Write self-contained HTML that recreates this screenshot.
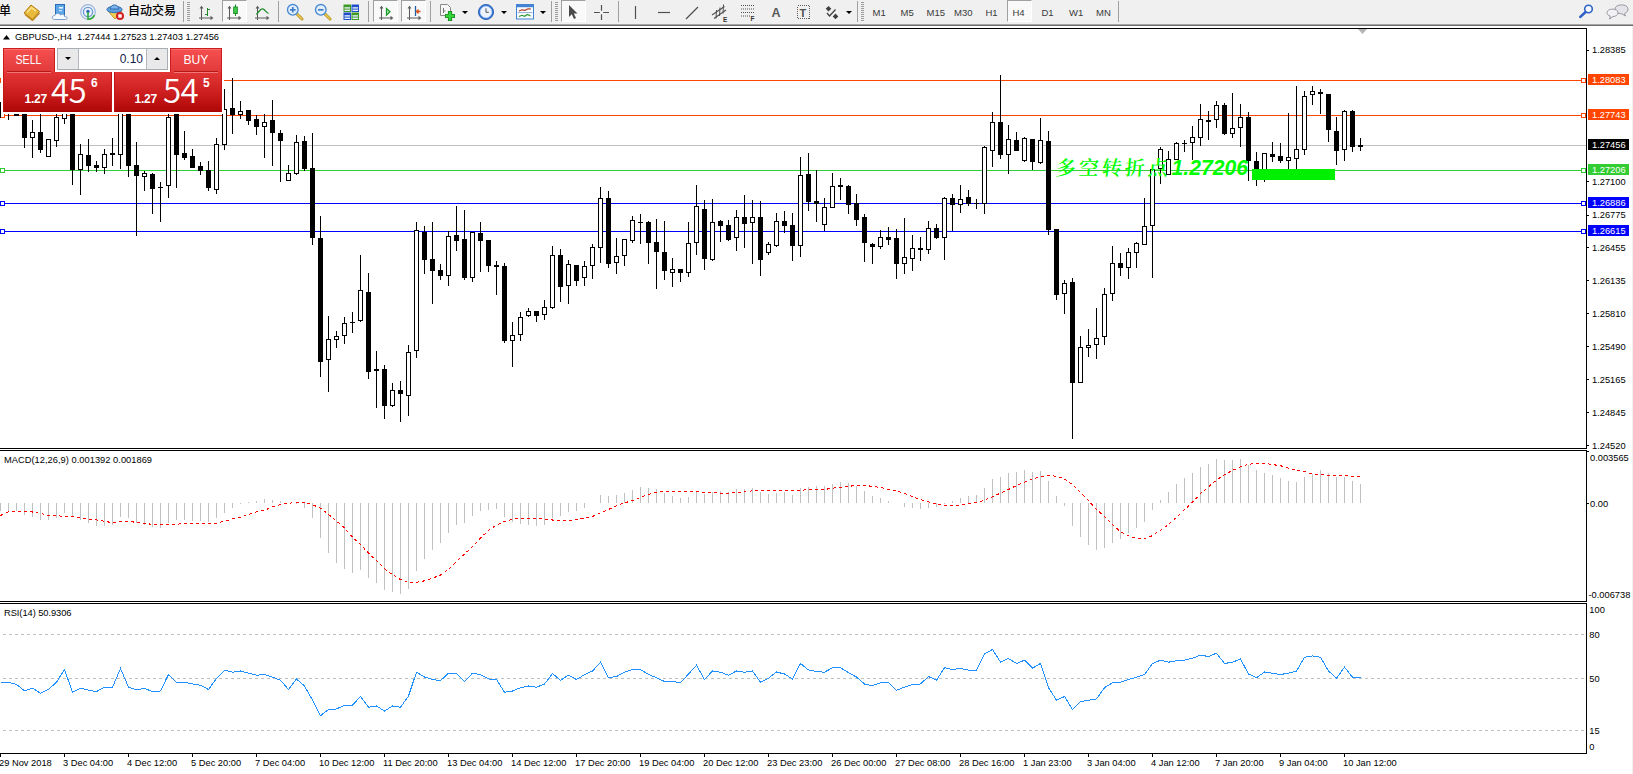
<!DOCTYPE html>
<html lang="zh">
<head>
<meta charset="utf-8">
<title>GBPUSD-,H4</title>
<style>
html,body{margin:0;padding:0;background:#fff;overflow:hidden}
body{width:1633px;height:774px;position:relative;font-family:"Liberation Sans","Noto Sans CJK SC",sans-serif}
#chart{position:absolute;left:0;top:0}
#tb{position:absolute;left:0;top:0;width:1633px;height:24px;background:#F0F0F0}
#tbl1{position:absolute;left:0;top:24px;width:1633px;height:1px;background:#A6A6A6}
#tbl2{position:absolute;left:0;top:25px;width:1633px;height:1px;background:#6E6E6E}
#tb .t{position:absolute;top:4.5px;font-size:9.5px;line-height:16px;color:#3a3a3a;white-space:nowrap}
#tb .cj{position:absolute;top:2px;font-size:12px;font-weight:500;line-height:18px;color:#000;white-space:nowrap}
#tb .sep{position:absolute;top:1px;width:1px;height:21px;background:#A0A0A0}
#tb .grip{position:absolute;top:2px;width:3px;height:19px;background:repeating-linear-gradient(to bottom,#9c9c9c 0,#9c9c9c 1px,#F0F0F0 1px,#F0F0F0 2px)}
#tb .pr{position:absolute;top:0;height:22px;box-sizing:border-box;background:#F9F9F9;border-top:1px solid #A0A0A0;border-left:1px solid #A0A0A0;border-right:1px solid #fff;border-bottom:1px solid #fff}
#tb svg{position:absolute}
#tb .dd{position:absolute;top:10px;width:0;height:0;border-left:3px solid transparent;border-right:3px solid transparent;border-top:3px solid #000}
/* trade panel */
#tpw{position:absolute;left:1px;top:46px;width:223px;height:68px;background:#fff}
#tp{position:absolute;left:3px;top:48px;width:219px;height:64px;background:#fff}
#tp .sell,#tp .buy{position:absolute;top:0;height:24px;width:52px;box-sizing:border-box;background:linear-gradient(#F64F4F,#E23A3A);color:#fff;font-size:12.5px;line-height:23px;text-align:center;border:1px solid #CC1C1C;border-bottom:none;box-shadow:inset 0 1px 0 #F97070}
#tp .sell{left:0}
#tp .buy{left:167px}
#tp .sell b,#tp .buy b{display:inline-block;font-weight:400;transform-origin:50% 50%}
#tp .sell b{transform:translateX(-0.8px) scaleX(0.85)}
#tp .buy b{transform:scaleX(0.97)}
#tp .sell i,#tp .buy i{position:absolute;left:3px;right:3px;bottom:0;height:1px;background:#B41818}
#tp .sell u,#tp .buy u{position:absolute;left:3px;right:3px;bottom:-1px;height:1px;background:#F27878;z-index:3}
#tp .pb{position:absolute;top:24px;height:40px;box-sizing:border-box;background:linear-gradient(#E23636 0%,#CE2020 50%,#B00707 100%);color:#fff;border:1px solid #C41414;border-top:none;border-bottom-color:#A60404}
#tp .pb.s{left:0;width:109px}
#tp .pb.b{left:111px;width:108px}
#tp .pb span{position:absolute;white-space:nowrap}
#tp .sm{font-weight:700;font-size:12px;line-height:14px;top:20px;letter-spacing:-0.2px}
#tp .bg{font-family:"Noto Sans CJK SC","Liberation Sans",sans-serif;font-weight:350;font-size:33px;line-height:33px;top:1px;letter-spacing:-0.5px}
#tp .sp{font-weight:700;font-size:12px;line-height:12px;top:5px}
#tp .spin{position:absolute;left:54px;top:0;width:111px;height:22px;box-sizing:border-box;border:1px solid #A9AEB4;background:#fff}
#tp .spin .l,#tp .spin .r{position:absolute;top:0;width:20px;height:20px;background:#E9E9E9}
#tp .spin .l{left:0;border-right:1px solid #B4B8BE}
#tp .spin .r{right:0;border-left:1px solid #B4B8BE}
#tp .spin .v{position:absolute;right:24px;top:0;font-size:12px;line-height:20px;color:#14244A}
#tp .spin .l:after{content:"";position:absolute;left:7px;top:8px;border-left:3px solid transparent;border-right:3px solid transparent;border-top:3px solid #000}
#tp .spin .r:after{content:"";position:absolute;left:7px;top:8px;border-left:3px solid transparent;border-right:3px solid transparent;border-bottom:3px solid #000}
</style>
</head>
<body>
<svg id="chart" width="1633" height="774" viewBox="0 0 1633 774" shape-rendering="crispEdges">
<style>.ax{font:9.3px "Liberation Sans",sans-serif;fill:#000}.lb{font:9.3px "Liberation Sans",sans-serif;fill:#fff}text{white-space:pre}</style>
<rect x="0" y="145" width="1586" height="1" fill="#C0C0C0"/>
<rect x="0" y="80" width="1586" height="1" fill="#FF4500"/>
<rect x="0.5" y="78.5" width="4" height="4" fill="#fff" stroke="#FF4500" stroke-width="1"/>
<rect x="1581.5" y="78.5" width="4" height="4" fill="#fff" stroke="#FF4500" stroke-width="1"/>
<rect x="0" y="115" width="1586" height="1" fill="#FF4500"/>
<rect x="0.5" y="113.5" width="4" height="4" fill="#fff" stroke="#FF4500" stroke-width="1"/>
<rect x="1581.5" y="113.5" width="4" height="4" fill="#fff" stroke="#FF4500" stroke-width="1"/>
<rect x="0" y="170" width="1586" height="1" fill="#32CD32"/>
<rect x="0.5" y="168.5" width="4" height="4" fill="#fff" stroke="#32CD32" stroke-width="1"/>
<rect x="1581.5" y="168.5" width="4" height="4" fill="#fff" stroke="#32CD32" stroke-width="1"/>
<rect x="0" y="203" width="1586" height="1" fill="#0000FF"/>
<rect x="0.5" y="201.5" width="4" height="4" fill="#fff" stroke="#0000FF" stroke-width="1"/>
<rect x="1581.5" y="201.5" width="4" height="4" fill="#fff" stroke="#0000FF" stroke-width="1"/>
<rect x="0" y="231" width="1586" height="1" fill="#0000FF"/>
<rect x="0.5" y="229.5" width="4" height="4" fill="#fff" stroke="#0000FF" stroke-width="1"/>
<rect x="1581.5" y="229.5" width="4" height="4" fill="#fff" stroke="#0000FF" stroke-width="1"/>
<g fill="#000">
<rect x="0" y="102" width="1" height="16"/>
<rect x="-2" y="102" width="5" height="11"/>
<rect x="8" y="100" width="1" height="20"/>
<rect x="6" y="100" width="5" height="10"/>
<rect x="7" y="101" width="3" height="8" fill="#fff"/>
<rect x="16" y="100" width="1" height="16"/>
<rect x="14" y="114" width="5" height="2"/>
<rect x="24" y="100" width="1" height="48"/>
<rect x="22" y="100" width="5" height="38"/>
<rect x="32" y="120" width="1" height="38"/>
<rect x="30" y="132" width="5" height="6"/>
<rect x="31" y="133" width="3" height="4" fill="#fff"/>
<rect x="40" y="105" width="1" height="48"/>
<rect x="38" y="132" width="5" height="18"/>
<rect x="48" y="139" width="1" height="18"/>
<rect x="46" y="139" width="5" height="18"/>
<rect x="47" y="140" width="3" height="16" fill="#fff"/>
<rect x="56" y="105" width="1" height="42"/>
<rect x="54" y="117" width="5" height="24"/>
<rect x="55" y="118" width="3" height="22" fill="#fff"/>
<rect x="64" y="100" width="1" height="24"/>
<rect x="62" y="100" width="5" height="19"/>
<rect x="63" y="101" width="3" height="17" fill="#fff"/>
<rect x="72" y="100" width="1" height="85"/>
<rect x="70" y="100" width="5" height="70"/>
<rect x="80" y="144" width="1" height="51"/>
<rect x="78" y="154" width="5" height="16"/>
<rect x="79" y="155" width="3" height="14" fill="#fff"/>
<rect x="88" y="139" width="1" height="33"/>
<rect x="86" y="155" width="5" height="11"/>
<rect x="96" y="161" width="1" height="11"/>
<rect x="94" y="165" width="5" height="3"/>
<rect x="104" y="149" width="1" height="25"/>
<rect x="102" y="154" width="5" height="14"/>
<rect x="103" y="155" width="3" height="12" fill="#fff"/>
<rect x="112" y="138" width="1" height="28"/>
<rect x="110" y="153" width="5" height="2"/>
<rect x="120" y="100" width="1" height="69"/>
<rect x="118" y="100" width="5" height="55"/>
<rect x="119" y="101" width="3" height="53" fill="#fff"/>
<rect x="128" y="100" width="1" height="77"/>
<rect x="126" y="100" width="5" height="66"/>
<rect x="136" y="142" width="1" height="94"/>
<rect x="134" y="165" width="5" height="11"/>
<rect x="144" y="171" width="1" height="20"/>
<rect x="142" y="173" width="5" height="4"/>
<rect x="143" y="174" width="3" height="2" fill="#fff"/>
<rect x="152" y="173" width="1" height="41"/>
<rect x="150" y="174" width="5" height="15"/>
<rect x="160" y="182" width="1" height="40"/>
<rect x="158" y="187" width="5" height="1"/>
<rect x="168" y="105" width="1" height="93"/>
<rect x="166" y="117" width="5" height="69"/>
<rect x="167" y="118" width="3" height="67" fill="#fff"/>
<rect x="176" y="105" width="1" height="83"/>
<rect x="174" y="105" width="5" height="50"/>
<rect x="184" y="131" width="1" height="29"/>
<rect x="182" y="153" width="5" height="5"/>
<rect x="192" y="149" width="1" height="19"/>
<rect x="190" y="156" width="5" height="12"/>
<rect x="200" y="162" width="1" height="13"/>
<rect x="198" y="166" width="5" height="5"/>
<rect x="208" y="161" width="1" height="30"/>
<rect x="206" y="170" width="5" height="18"/>
<rect x="216" y="138" width="1" height="56"/>
<rect x="214" y="144" width="5" height="46"/>
<rect x="215" y="145" width="3" height="44" fill="#fff"/>
<rect x="224" y="89" width="1" height="61"/>
<rect x="222" y="109" width="5" height="36"/>
<rect x="223" y="110" width="3" height="34" fill="#fff"/>
<rect x="232" y="78" width="1" height="56"/>
<rect x="230" y="108" width="5" height="7"/>
<rect x="240" y="101" width="1" height="18"/>
<rect x="238" y="111" width="5" height="4"/>
<rect x="239" y="112" width="3" height="2" fill="#fff"/>
<rect x="248" y="110" width="1" height="15"/>
<rect x="246" y="110" width="5" height="11"/>
<rect x="256" y="115" width="1" height="20"/>
<rect x="254" y="119" width="5" height="8"/>
<rect x="264" y="114" width="1" height="44"/>
<rect x="262" y="122" width="5" height="5"/>
<rect x="263" y="123" width="3" height="3" fill="#fff"/>
<rect x="272" y="100" width="1" height="66"/>
<rect x="270" y="120" width="5" height="13"/>
<rect x="280" y="130" width="1" height="52"/>
<rect x="278" y="133" width="5" height="8"/>
<rect x="288" y="165" width="1" height="16"/>
<rect x="286" y="173" width="5" height="8"/>
<rect x="287" y="174" width="3" height="6" fill="#fff"/>
<rect x="296" y="135" width="1" height="40"/>
<rect x="294" y="142" width="5" height="32"/>
<rect x="295" y="143" width="3" height="30" fill="#fff"/>
<rect x="304" y="136" width="1" height="35"/>
<rect x="302" y="141" width="5" height="28"/>
<rect x="312" y="133" width="1" height="112"/>
<rect x="310" y="168" width="5" height="70"/>
<rect x="320" y="216" width="1" height="161"/>
<rect x="318" y="238" width="5" height="124"/>
<rect x="328" y="316" width="1" height="76"/>
<rect x="326" y="339" width="5" height="21"/>
<rect x="327" y="340" width="3" height="19" fill="#fff"/>
<rect x="336" y="331" width="1" height="17"/>
<rect x="334" y="336" width="5" height="4"/>
<rect x="335" y="337" width="3" height="2" fill="#fff"/>
<rect x="344" y="317" width="1" height="27"/>
<rect x="342" y="323" width="5" height="13"/>
<rect x="343" y="324" width="3" height="11" fill="#fff"/>
<rect x="352" y="312" width="1" height="21"/>
<rect x="350" y="322" width="5" height="1"/>
<rect x="360" y="255" width="1" height="67"/>
<rect x="358" y="290" width="5" height="31"/>
<rect x="359" y="291" width="3" height="29" fill="#fff"/>
<rect x="368" y="273" width="1" height="106"/>
<rect x="366" y="292" width="5" height="80"/>
<rect x="376" y="351" width="1" height="57"/>
<rect x="374" y="369" width="5" height="2"/>
<rect x="384" y="365" width="1" height="54"/>
<rect x="382" y="369" width="5" height="37"/>
<rect x="392" y="383" width="1" height="24"/>
<rect x="390" y="390" width="5" height="16"/>
<rect x="391" y="391" width="3" height="14" fill="#fff"/>
<rect x="400" y="381" width="1" height="41"/>
<rect x="398" y="390" width="5" height="4"/>
<rect x="408" y="345" width="1" height="71"/>
<rect x="406" y="352" width="5" height="44"/>
<rect x="407" y="353" width="3" height="42" fill="#fff"/>
<rect x="416" y="222" width="1" height="136"/>
<rect x="414" y="230" width="5" height="121"/>
<rect x="415" y="231" width="3" height="119" fill="#fff"/>
<rect x="424" y="226" width="1" height="48"/>
<rect x="422" y="232" width="5" height="28"/>
<rect x="432" y="222" width="1" height="82"/>
<rect x="430" y="259" width="5" height="12"/>
<rect x="440" y="264" width="1" height="16"/>
<rect x="438" y="270" width="5" height="6"/>
<rect x="448" y="231" width="1" height="55"/>
<rect x="446" y="236" width="5" height="40"/>
<rect x="447" y="237" width="3" height="38" fill="#fff"/>
<rect x="456" y="206" width="1" height="45"/>
<rect x="454" y="235" width="5" height="6"/>
<rect x="464" y="210" width="1" height="70"/>
<rect x="462" y="239" width="5" height="39"/>
<rect x="472" y="232" width="1" height="50"/>
<rect x="470" y="232" width="5" height="46"/>
<rect x="471" y="233" width="3" height="44" fill="#fff"/>
<rect x="480" y="222" width="1" height="50"/>
<rect x="478" y="233" width="5" height="8"/>
<rect x="488" y="240" width="1" height="32"/>
<rect x="486" y="240" width="5" height="26"/>
<rect x="496" y="261" width="1" height="34"/>
<rect x="494" y="265" width="5" height="2"/>
<rect x="504" y="263" width="1" height="80"/>
<rect x="502" y="266" width="5" height="75"/>
<rect x="512" y="322" width="1" height="45"/>
<rect x="510" y="335" width="5" height="6"/>
<rect x="511" y="336" width="3" height="4" fill="#fff"/>
<rect x="520" y="312" width="1" height="29"/>
<rect x="518" y="317" width="5" height="18"/>
<rect x="519" y="318" width="3" height="16" fill="#fff"/>
<rect x="528" y="308" width="1" height="9"/>
<rect x="526" y="311" width="5" height="5"/>
<rect x="527" y="312" width="3" height="3" fill="#fff"/>
<rect x="536" y="311" width="1" height="11"/>
<rect x="534" y="311" width="5" height="5"/>
<rect x="544" y="300" width="1" height="20"/>
<rect x="542" y="307" width="5" height="8"/>
<rect x="543" y="308" width="3" height="6" fill="#fff"/>
<rect x="552" y="246" width="1" height="63"/>
<rect x="550" y="255" width="5" height="53"/>
<rect x="551" y="256" width="3" height="51" fill="#fff"/>
<rect x="560" y="249" width="1" height="53"/>
<rect x="558" y="255" width="5" height="32"/>
<rect x="568" y="260" width="1" height="44"/>
<rect x="566" y="264" width="5" height="22"/>
<rect x="567" y="265" width="3" height="20" fill="#fff"/>
<rect x="576" y="265" width="1" height="21"/>
<rect x="574" y="265" width="5" height="16"/>
<rect x="584" y="261" width="1" height="25"/>
<rect x="582" y="266" width="5" height="12"/>
<rect x="583" y="267" width="3" height="10" fill="#fff"/>
<rect x="592" y="244" width="1" height="35"/>
<rect x="590" y="247" width="5" height="19"/>
<rect x="591" y="248" width="3" height="17" fill="#fff"/>
<rect x="600" y="187" width="1" height="76"/>
<rect x="598" y="198" width="5" height="50"/>
<rect x="599" y="199" width="3" height="48" fill="#fff"/>
<rect x="608" y="191" width="1" height="77"/>
<rect x="606" y="198" width="5" height="66"/>
<rect x="616" y="238" width="1" height="36"/>
<rect x="614" y="256" width="5" height="7"/>
<rect x="615" y="257" width="3" height="5" fill="#fff"/>
<rect x="624" y="239" width="1" height="27"/>
<rect x="622" y="239" width="5" height="17"/>
<rect x="623" y="240" width="3" height="15" fill="#fff"/>
<rect x="632" y="216" width="1" height="27"/>
<rect x="630" y="220" width="5" height="21"/>
<rect x="631" y="221" width="3" height="19" fill="#fff"/>
<rect x="640" y="214" width="1" height="30"/>
<rect x="638" y="222" width="5" height="1"/>
<rect x="648" y="221" width="1" height="43"/>
<rect x="646" y="222" width="5" height="21"/>
<rect x="656" y="219" width="1" height="70"/>
<rect x="654" y="242" width="5" height="10"/>
<rect x="664" y="221" width="1" height="59"/>
<rect x="662" y="252" width="5" height="19"/>
<rect x="672" y="258" width="1" height="29"/>
<rect x="670" y="269" width="5" height="4"/>
<rect x="671" y="270" width="3" height="2" fill="#fff"/>
<rect x="680" y="269" width="1" height="13"/>
<rect x="678" y="269" width="5" height="4"/>
<rect x="688" y="222" width="1" height="55"/>
<rect x="686" y="243" width="5" height="30"/>
<rect x="687" y="244" width="3" height="28" fill="#fff"/>
<rect x="696" y="185" width="1" height="70"/>
<rect x="694" y="206" width="5" height="37"/>
<rect x="695" y="207" width="3" height="35" fill="#fff"/>
<rect x="704" y="200" width="1" height="70"/>
<rect x="702" y="209" width="5" height="50"/>
<rect x="712" y="199" width="1" height="62"/>
<rect x="710" y="222" width="5" height="38"/>
<rect x="711" y="223" width="3" height="36" fill="#fff"/>
<rect x="720" y="220" width="1" height="22"/>
<rect x="718" y="221" width="5" height="5"/>
<rect x="728" y="220" width="1" height="21"/>
<rect x="726" y="225" width="5" height="15"/>
<rect x="736" y="210" width="1" height="41"/>
<rect x="734" y="217" width="5" height="21"/>
<rect x="735" y="218" width="3" height="19" fill="#fff"/>
<rect x="744" y="195" width="1" height="53"/>
<rect x="742" y="217" width="5" height="7"/>
<rect x="752" y="200" width="1" height="64"/>
<rect x="750" y="217" width="5" height="6"/>
<rect x="751" y="218" width="3" height="4" fill="#fff"/>
<rect x="760" y="201" width="1" height="75"/>
<rect x="758" y="217" width="5" height="43"/>
<rect x="768" y="242" width="1" height="13"/>
<rect x="766" y="244" width="5" height="9"/>
<rect x="767" y="245" width="3" height="7" fill="#fff"/>
<rect x="776" y="213" width="1" height="34"/>
<rect x="774" y="221" width="5" height="25"/>
<rect x="775" y="222" width="3" height="23" fill="#fff"/>
<rect x="784" y="211" width="1" height="22"/>
<rect x="782" y="221" width="5" height="5"/>
<rect x="792" y="213" width="1" height="48"/>
<rect x="790" y="225" width="5" height="21"/>
<rect x="800" y="157" width="1" height="100"/>
<rect x="798" y="175" width="5" height="71"/>
<rect x="799" y="176" width="3" height="69" fill="#fff"/>
<rect x="808" y="153" width="1" height="58"/>
<rect x="806" y="174" width="5" height="28"/>
<rect x="816" y="170" width="1" height="52"/>
<rect x="814" y="201" width="5" height="3"/>
<rect x="824" y="198" width="1" height="33"/>
<rect x="822" y="207" width="5" height="18"/>
<rect x="823" y="208" width="3" height="16" fill="#fff"/>
<rect x="832" y="173" width="1" height="35"/>
<rect x="830" y="186" width="5" height="22"/>
<rect x="831" y="187" width="3" height="20" fill="#fff"/>
<rect x="840" y="178" width="1" height="22"/>
<rect x="838" y="185" width="5" height="2"/>
<rect x="848" y="185" width="1" height="29"/>
<rect x="846" y="186" width="5" height="19"/>
<rect x="856" y="194" width="1" height="32"/>
<rect x="854" y="203" width="5" height="17"/>
<rect x="864" y="214" width="1" height="48"/>
<rect x="862" y="217" width="5" height="26"/>
<rect x="872" y="243" width="1" height="21"/>
<rect x="870" y="244" width="5" height="3"/>
<rect x="880" y="230" width="1" height="19"/>
<rect x="878" y="237" width="5" height="10"/>
<rect x="879" y="238" width="3" height="8" fill="#fff"/>
<rect x="888" y="227" width="1" height="18"/>
<rect x="886" y="237" width="5" height="3"/>
<rect x="896" y="229" width="1" height="50"/>
<rect x="894" y="238" width="5" height="26"/>
<rect x="904" y="218" width="1" height="56"/>
<rect x="902" y="257" width="5" height="7"/>
<rect x="903" y="258" width="3" height="5" fill="#fff"/>
<rect x="912" y="235" width="1" height="36"/>
<rect x="910" y="248" width="5" height="11"/>
<rect x="911" y="249" width="3" height="9" fill="#fff"/>
<rect x="920" y="237" width="1" height="24"/>
<rect x="918" y="248" width="5" height="2"/>
<rect x="928" y="221" width="1" height="33"/>
<rect x="926" y="228" width="5" height="22"/>
<rect x="927" y="229" width="3" height="20" fill="#fff"/>
<rect x="936" y="224" width="1" height="15"/>
<rect x="934" y="228" width="5" height="10"/>
<rect x="944" y="197" width="1" height="63"/>
<rect x="942" y="198" width="5" height="40"/>
<rect x="943" y="199" width="3" height="38" fill="#fff"/>
<rect x="952" y="194" width="1" height="37"/>
<rect x="950" y="198" width="5" height="7"/>
<rect x="960" y="185" width="1" height="28"/>
<rect x="958" y="199" width="5" height="6"/>
<rect x="959" y="200" width="3" height="4" fill="#fff"/>
<rect x="968" y="190" width="1" height="16"/>
<rect x="966" y="197" width="5" height="7"/>
<rect x="976" y="199" width="1" height="10"/>
<rect x="974" y="203" width="5" height="1"/>
<rect x="984" y="146" width="1" height="68"/>
<rect x="982" y="147" width="5" height="57"/>
<rect x="983" y="148" width="3" height="55" fill="#fff"/>
<rect x="992" y="112" width="1" height="55"/>
<rect x="990" y="122" width="5" height="29"/>
<rect x="991" y="123" width="3" height="27" fill="#fff"/>
<rect x="1000" y="75" width="1" height="84"/>
<rect x="998" y="122" width="5" height="33"/>
<rect x="1008" y="125" width="1" height="49"/>
<rect x="1006" y="139" width="5" height="16"/>
<rect x="1007" y="140" width="3" height="14" fill="#fff"/>
<rect x="1016" y="132" width="1" height="19"/>
<rect x="1014" y="140" width="5" height="11"/>
<rect x="1024" y="137" width="1" height="25"/>
<rect x="1022" y="138" width="5" height="23"/>
<rect x="1023" y="139" width="3" height="21" fill="#fff"/>
<rect x="1032" y="139" width="1" height="31"/>
<rect x="1030" y="139" width="5" height="23"/>
<rect x="1040" y="118" width="1" height="46"/>
<rect x="1038" y="140" width="5" height="23"/>
<rect x="1039" y="141" width="3" height="21" fill="#fff"/>
<rect x="1048" y="131" width="1" height="104"/>
<rect x="1046" y="141" width="5" height="89"/>
<rect x="1056" y="229" width="1" height="71"/>
<rect x="1054" y="229" width="5" height="66"/>
<rect x="1064" y="280" width="1" height="34"/>
<rect x="1062" y="283" width="5" height="11"/>
<rect x="1063" y="284" width="3" height="9" fill="#fff"/>
<rect x="1072" y="278" width="1" height="161"/>
<rect x="1070" y="282" width="5" height="101"/>
<rect x="1080" y="336" width="1" height="47"/>
<rect x="1078" y="347" width="5" height="36"/>
<rect x="1079" y="348" width="3" height="34" fill="#fff"/>
<rect x="1088" y="329" width="1" height="28"/>
<rect x="1086" y="345" width="5" height="3"/>
<rect x="1087" y="346" width="3" height="1" fill="#fff"/>
<rect x="1096" y="308" width="1" height="51"/>
<rect x="1094" y="338" width="5" height="7"/>
<rect x="1095" y="339" width="3" height="5" fill="#fff"/>
<rect x="1104" y="288" width="1" height="57"/>
<rect x="1102" y="294" width="5" height="43"/>
<rect x="1103" y="295" width="3" height="41" fill="#fff"/>
<rect x="1112" y="246" width="1" height="55"/>
<rect x="1110" y="263" width="5" height="31"/>
<rect x="1111" y="264" width="3" height="29" fill="#fff"/>
<rect x="1120" y="253" width="1" height="23"/>
<rect x="1118" y="263" width="5" height="5"/>
<rect x="1128" y="248" width="1" height="31"/>
<rect x="1126" y="252" width="5" height="16"/>
<rect x="1127" y="253" width="3" height="14" fill="#fff"/>
<rect x="1136" y="242" width="1" height="26"/>
<rect x="1134" y="243" width="5" height="10"/>
<rect x="1135" y="244" width="3" height="8" fill="#fff"/>
<rect x="1144" y="198" width="1" height="47"/>
<rect x="1142" y="226" width="5" height="19"/>
<rect x="1143" y="227" width="3" height="17" fill="#fff"/>
<rect x="1152" y="168" width="1" height="110"/>
<rect x="1150" y="169" width="5" height="57"/>
<rect x="1151" y="170" width="3" height="55" fill="#fff"/>
<rect x="1160" y="147" width="1" height="37"/>
<rect x="1158" y="149" width="5" height="20"/>
<rect x="1159" y="150" width="3" height="18" fill="#fff"/>
<rect x="1168" y="151" width="1" height="24"/>
<rect x="1166" y="159" width="5" height="16"/>
<rect x="1167" y="160" width="3" height="14" fill="#fff"/>
<rect x="1176" y="142" width="1" height="18"/>
<rect x="1174" y="143" width="5" height="17"/>
<rect x="1175" y="144" width="3" height="15" fill="#fff"/>
<rect x="1184" y="140" width="1" height="12"/>
<rect x="1182" y="143" width="5" height="1"/>
<rect x="1192" y="126" width="1" height="34"/>
<rect x="1190" y="137" width="5" height="6"/>
<rect x="1191" y="138" width="3" height="4" fill="#fff"/>
<rect x="1200" y="104" width="1" height="42"/>
<rect x="1198" y="119" width="5" height="19"/>
<rect x="1199" y="120" width="3" height="17" fill="#fff"/>
<rect x="1208" y="111" width="1" height="29"/>
<rect x="1206" y="120" width="5" height="2"/>
<rect x="1216" y="101" width="1" height="27"/>
<rect x="1214" y="105" width="5" height="15"/>
<rect x="1215" y="106" width="3" height="13" fill="#fff"/>
<rect x="1224" y="103" width="1" height="32"/>
<rect x="1222" y="105" width="5" height="29"/>
<rect x="1232" y="93" width="1" height="45"/>
<rect x="1230" y="128" width="5" height="6"/>
<rect x="1231" y="129" width="3" height="4" fill="#fff"/>
<rect x="1240" y="104" width="1" height="43"/>
<rect x="1238" y="117" width="5" height="11"/>
<rect x="1239" y="118" width="3" height="9" fill="#fff"/>
<rect x="1248" y="112" width="1" height="69"/>
<rect x="1246" y="117" width="5" height="44"/>
<rect x="1256" y="152" width="1" height="34"/>
<rect x="1254" y="161" width="5" height="14"/>
<rect x="1264" y="153" width="1" height="29"/>
<rect x="1262" y="153" width="5" height="22"/>
<rect x="1263" y="154" width="3" height="20" fill="#fff"/>
<rect x="1272" y="142" width="1" height="20"/>
<rect x="1270" y="154" width="5" height="3"/>
<rect x="1280" y="143" width="1" height="20"/>
<rect x="1278" y="156" width="5" height="5"/>
<rect x="1288" y="113" width="1" height="62"/>
<rect x="1286" y="157" width="5" height="4"/>
<rect x="1287" y="158" width="3" height="2" fill="#fff"/>
<rect x="1296" y="86" width="1" height="89"/>
<rect x="1294" y="149" width="5" height="10"/>
<rect x="1295" y="150" width="3" height="8" fill="#fff"/>
<rect x="1304" y="91" width="1" height="64"/>
<rect x="1302" y="96" width="5" height="54"/>
<rect x="1303" y="97" width="3" height="52" fill="#fff"/>
<rect x="1312" y="86" width="1" height="19"/>
<rect x="1310" y="91" width="5" height="4"/>
<rect x="1311" y="92" width="3" height="2" fill="#fff"/>
<rect x="1320" y="89" width="1" height="25"/>
<rect x="1318" y="92" width="5" height="2"/>
<rect x="1328" y="94" width="1" height="48"/>
<rect x="1326" y="94" width="5" height="36"/>
<rect x="1336" y="117" width="1" height="48"/>
<rect x="1334" y="131" width="5" height="20"/>
<rect x="1344" y="110" width="1" height="51"/>
<rect x="1342" y="111" width="5" height="39"/>
<rect x="1343" y="112" width="3" height="37" fill="#fff"/>
<rect x="1352" y="110" width="1" height="42"/>
<rect x="1350" y="111" width="5" height="36"/>
<rect x="1360" y="138" width="1" height="13"/>
<rect x="1358" y="145" width="5" height="2"/>
</g>
<text x="1055.3" y="174.7" transform="translate(1055.3,174.7) skewX(-5) translate(-1055.3,-174.7)" shape-rendering="auto" style="font:600 20px 'Liberation Serif','Noto Serif CJK SC',serif;fill:#00FF00;letter-spacing:3px">多空转折点</text>
<text x="1171.5" y="175" textLength="76.5" lengthAdjust="spacingAndGlyphs" style="font:italic 700 22.3px 'Liberation Sans',sans-serif;fill:#00FF00">1.27206</text>
<rect x="1252" y="169" width="83" height="11" fill="#00F000"/>
<path d="M1358 29 L1367 29 L1362.5 34 Z" fill="#B4B4B4" shape-rendering="auto"/>
<g fill="#C0C0C0">
<rect x="0" y="503" width="1" height="8"/>
<rect x="8" y="503" width="1" height="9"/>
<rect x="16" y="503" width="1" height="8"/>
<rect x="24" y="503" width="1" height="12"/>
<rect x="32" y="503" width="1" height="14"/>
<rect x="40" y="503" width="1" height="17"/>
<rect x="48" y="503" width="1" height="17"/>
<rect x="56" y="503" width="1" height="15"/>
<rect x="64" y="503" width="1" height="10"/>
<rect x="72" y="503" width="1" height="14"/>
<rect x="80" y="503" width="1" height="17"/>
<rect x="88" y="503" width="1" height="20"/>
<rect x="96" y="503" width="1" height="23"/>
<rect x="104" y="503" width="1" height="23"/>
<rect x="112" y="503" width="1" height="22"/>
<rect x="120" y="503" width="1" height="14"/>
<rect x="128" y="503" width="1" height="15"/>
<rect x="136" y="503" width="1" height="20"/>
<rect x="144" y="503" width="1" height="22"/>
<rect x="152" y="503" width="1" height="24"/>
<rect x="160" y="503" width="1" height="25"/>
<rect x="168" y="503" width="1" height="20"/>
<rect x="176" y="503" width="1" height="17"/>
<rect x="184" y="503" width="1" height="17"/>
<rect x="192" y="503" width="1" height="18"/>
<rect x="200" y="503" width="1" height="18"/>
<rect x="208" y="503" width="1" height="19"/>
<rect x="216" y="503" width="1" height="15"/>
<rect x="224" y="503" width="1" height="10"/>
<rect x="232" y="503" width="1" height="5"/>
<rect x="240" y="503" width="1" height="1"/>
<rect x="248" y="502" width="1" height="1"/>
<rect x="256" y="501" width="1" height="2"/>
<rect x="264" y="499" width="1" height="4"/>
<rect x="272" y="500" width="1" height="3"/>
<rect x="280" y="501" width="1" height="2"/>
<rect x="296" y="503" width="1" height="1"/>
<rect x="304" y="503" width="1" height="5"/>
<rect x="312" y="503" width="1" height="15"/>
<rect x="320" y="503" width="1" height="35"/>
<rect x="328" y="503" width="1" height="50"/>
<rect x="336" y="503" width="1" height="60"/>
<rect x="344" y="503" width="1" height="66"/>
<rect x="352" y="503" width="1" height="70"/>
<rect x="360" y="503" width="1" height="67"/>
<rect x="368" y="503" width="1" height="75"/>
<rect x="376" y="503" width="1" height="80"/>
<rect x="384" y="503" width="1" height="87"/>
<rect x="392" y="503" width="1" height="89"/>
<rect x="400" y="503" width="1" height="91"/>
<rect x="408" y="503" width="1" height="86"/>
<rect x="416" y="503" width="1" height="68"/>
<rect x="424" y="503" width="1" height="56"/>
<rect x="432" y="503" width="1" height="47"/>
<rect x="440" y="503" width="1" height="40"/>
<rect x="448" y="503" width="1" height="30"/>
<rect x="456" y="503" width="1" height="22"/>
<rect x="464" y="503" width="1" height="20"/>
<rect x="472" y="503" width="1" height="13"/>
<rect x="480" y="503" width="1" height="8"/>
<rect x="488" y="503" width="1" height="7"/>
<rect x="496" y="503" width="1" height="6"/>
<rect x="504" y="503" width="1" height="14"/>
<rect x="512" y="503" width="1" height="19"/>
<rect x="520" y="503" width="1" height="21"/>
<rect x="528" y="503" width="1" height="22"/>
<rect x="536" y="503" width="1" height="23"/>
<rect x="544" y="503" width="1" height="22"/>
<rect x="552" y="503" width="1" height="15"/>
<rect x="560" y="503" width="1" height="13"/>
<rect x="568" y="503" width="1" height="9"/>
<rect x="576" y="503" width="1" height="8"/>
<rect x="584" y="503" width="1" height="5"/>
<rect x="600" y="495" width="1" height="8"/>
<rect x="608" y="496" width="1" height="7"/>
<rect x="616" y="495" width="1" height="8"/>
<rect x="624" y="493" width="1" height="10"/>
<rect x="632" y="490" width="1" height="13"/>
<rect x="640" y="487" width="1" height="16"/>
<rect x="648" y="488" width="1" height="15"/>
<rect x="656" y="489" width="1" height="14"/>
<rect x="664" y="493" width="1" height="10"/>
<rect x="672" y="496" width="1" height="7"/>
<rect x="680" y="498" width="1" height="5"/>
<rect x="688" y="497" width="1" height="6"/>
<rect x="696" y="492" width="1" height="11"/>
<rect x="704" y="494" width="1" height="9"/>
<rect x="712" y="492" width="1" height="11"/>
<rect x="720" y="491" width="1" height="12"/>
<rect x="728" y="492" width="1" height="11"/>
<rect x="736" y="489" width="1" height="14"/>
<rect x="744" y="489" width="1" height="14"/>
<rect x="752" y="488" width="1" height="15"/>
<rect x="760" y="492" width="1" height="11"/>
<rect x="768" y="494" width="1" height="9"/>
<rect x="776" y="493" width="1" height="10"/>
<rect x="784" y="492" width="1" height="11"/>
<rect x="792" y="495" width="1" height="8"/>
<rect x="800" y="488" width="1" height="15"/>
<rect x="808" y="487" width="1" height="16"/>
<rect x="816" y="486" width="1" height="17"/>
<rect x="824" y="486" width="1" height="17"/>
<rect x="832" y="484" width="1" height="19"/>
<rect x="840" y="482" width="1" height="21"/>
<rect x="848" y="483" width="1" height="20"/>
<rect x="856" y="486" width="1" height="17"/>
<rect x="864" y="491" width="1" height="12"/>
<rect x="872" y="496" width="1" height="7"/>
<rect x="880" y="498" width="1" height="5"/>
<rect x="888" y="501" width="1" height="2"/>
<rect x="904" y="503" width="1" height="4"/>
<rect x="912" y="503" width="1" height="5"/>
<rect x="920" y="503" width="1" height="6"/>
<rect x="928" y="503" width="1" height="5"/>
<rect x="936" y="503" width="1" height="4"/>
<rect x="944" y="503" width="1" height="1"/>
<rect x="952" y="501" width="1" height="2"/>
<rect x="960" y="498" width="1" height="5"/>
<rect x="968" y="496" width="1" height="7"/>
<rect x="976" y="495" width="1" height="8"/>
<rect x="984" y="488" width="1" height="15"/>
<rect x="992" y="479" width="1" height="24"/>
<rect x="1000" y="477" width="1" height="26"/>
<rect x="1008" y="473" width="1" height="30"/>
<rect x="1016" y="472" width="1" height="31"/>
<rect x="1024" y="470" width="1" height="33"/>
<rect x="1032" y="472" width="1" height="31"/>
<rect x="1040" y="471" width="1" height="32"/>
<rect x="1048" y="481" width="1" height="22"/>
<rect x="1056" y="496" width="1" height="7"/>
<rect x="1064" y="503" width="1" height="3"/>
<rect x="1072" y="503" width="1" height="23"/>
<rect x="1080" y="503" width="1" height="34"/>
<rect x="1088" y="503" width="1" height="42"/>
<rect x="1096" y="503" width="1" height="47"/>
<rect x="1104" y="503" width="1" height="45"/>
<rect x="1112" y="503" width="1" height="40"/>
<rect x="1120" y="503" width="1" height="36"/>
<rect x="1128" y="503" width="1" height="30"/>
<rect x="1136" y="503" width="1" height="25"/>
<rect x="1144" y="503" width="1" height="19"/>
<rect x="1152" y="503" width="1" height="7"/>
<rect x="1160" y="500" width="1" height="3"/>
<rect x="1168" y="492" width="1" height="11"/>
<rect x="1176" y="484" width="1" height="19"/>
<rect x="1184" y="478" width="1" height="25"/>
<rect x="1192" y="473" width="1" height="30"/>
<rect x="1200" y="467" width="1" height="36"/>
<rect x="1208" y="464" width="1" height="39"/>
<rect x="1216" y="459" width="1" height="44"/>
<rect x="1224" y="460" width="1" height="43"/>
<rect x="1232" y="460" width="1" height="43"/>
<rect x="1240" y="459" width="1" height="44"/>
<rect x="1248" y="465" width="1" height="38"/>
<rect x="1256" y="470" width="1" height="33"/>
<rect x="1264" y="473" width="1" height="30"/>
<rect x="1272" y="475" width="1" height="28"/>
<rect x="1280" y="478" width="1" height="25"/>
<rect x="1288" y="481" width="1" height="22"/>
<rect x="1296" y="482" width="1" height="21"/>
<rect x="1304" y="477" width="1" height="26"/>
<rect x="1312" y="474" width="1" height="29"/>
<rect x="1320" y="470" width="1" height="33"/>
<rect x="1328" y="473" width="1" height="30"/>
<rect x="1336" y="477" width="1" height="26"/>
<rect x="1344" y="477" width="1" height="26"/>
<rect x="1352" y="481" width="1" height="22"/>
<rect x="1360" y="484" width="1" height="19"/>
</g>
<polyline points="0.5,515.5 8.5,511.9 16.5,511.2 24.5,511.4 32.5,512.0 40.5,513.4 48.5,515.3 56.5,515.7 64.5,516.4 72.5,516.5 80.5,517.6 88.5,518.9 96.5,520.0 104.5,521.3 112.5,522.7 120.5,521.4 128.5,521.2 136.5,522.5 144.5,523.2 152.5,524.5 160.5,524.4 168.5,524.3 176.5,524.1 184.5,523.8 192.5,523.5 200.5,523.4 208.5,523.3 216.5,523.1 224.5,521.3 232.5,518.9 240.5,517.1 248.5,514.4 256.5,511.7 264.5,510.3 272.5,506.9 280.5,504.6 288.5,503.2 296.5,502.5 304.5,502.7 312.5,504.6 320.5,508.3 328.5,514.4 336.5,521.1 344.5,528.0 352.5,537.1 360.5,544.5 368.5,553.2 376.5,560.7 384.5,568.7 392.5,574.6 400.5,579.6 408.5,582.4 416.5,582.4 424.5,580.8 432.5,578.2 440.5,575.1 448.5,569.2 456.5,561.6 464.5,553.9 472.5,546.7 480.5,538.1 488.5,530.4 496.5,525.0 504.5,521.3 512.5,519.4 520.5,518.2 528.5,518.2 536.5,518.2 544.5,518.9 552.5,520.0 560.5,520.0 568.5,520.7 576.5,519.9 584.5,517.8 592.5,516.4 600.5,512.9 608.5,509.5 616.5,505.6 624.5,502.8 632.5,500.7 640.5,497.2 648.5,494.5 656.5,492.4 664.5,491.5 672.5,491.5 680.5,491.5 688.5,491.5 696.5,491.5 704.5,492.5 712.5,492.5 720.5,493.2 728.5,493.2 736.5,492.4 744.5,492.0 752.5,490.7 760.5,490.7 768.5,490.7 776.5,490.7 784.5,490.5 792.5,490.4 800.5,490.2 808.5,489.8 816.5,489.5 824.5,489.5 832.5,488.2 840.5,487.4 848.5,486.5 856.5,485.2 864.5,485.2 872.5,486.5 880.5,487.4 888.5,489.4 896.5,490.8 904.5,493.5 912.5,496.5 920.5,499.6 928.5,501.9 936.5,504.0 944.5,505.2 952.5,505.2 960.5,505.1 968.5,504.0 976.5,502.6 984.5,500.1 992.5,496.9 1000.5,493.0 1008.5,489.5 1016.5,485.6 1024.5,482.1 1032.5,478.9 1040.5,476.7 1048.5,475.4 1056.5,476.3 1064.5,478.9 1072.5,484.6 1080.5,492.2 1088.5,500.6 1096.5,509.4 1104.5,516.6 1112.5,524.6 1120.5,531.8 1128.5,535.7 1136.5,538.7 1144.5,538.7 1152.5,535.6 1160.5,530.2 1168.5,524.5 1176.5,517.3 1184.5,509.7 1192.5,502.2 1200.5,493.6 1208.5,486.8 1216.5,480.2 1224.5,474.6 1232.5,470.5 1240.5,466.7 1248.5,464.4 1256.5,463.2 1264.5,463.3 1272.5,464.6 1280.5,465.7 1288.5,468.3 1296.5,470.1 1304.5,471.5 1312.5,474.0 1320.5,474.5 1328.5,475.2 1336.5,475.2 1344.5,475.2 1352.5,476.2 1360.5,476.2" fill="none" stroke="#FF0000" stroke-width="1" stroke-dasharray="3 3" shape-rendering="crispEdges"/>
<line x1="3" y1="634.5" x2="1586" y2="634.5" stroke="#C0C0C0" stroke-width="1" stroke-dasharray="3 3"/>
<line x1="3" y1="678.5" x2="1586" y2="678.5" stroke="#C0C0C0" stroke-width="1" stroke-dasharray="3 3"/>
<line x1="3" y1="730.5" x2="1586" y2="730.5" stroke="#C0C0C0" stroke-width="1" stroke-dasharray="3 3"/>
<polyline points="0.5,682.2 8.5,682.2 16.5,684.5 24.5,690.7 32.5,688.2 40.5,693.2 48.5,689.5 56.5,682.2 64.5,669.5 72.5,692.2 80.5,688.2 88.5,690.2 96.5,691.5 104.5,687.2 112.5,687.2 120.5,668.5 128.5,687.2 136.5,689.7 144.5,688.5 152.5,691.5 160.5,691.0 168.5,674.5 176.5,682.2 184.5,682.2 192.5,684.0 200.5,685.2 208.5,689.5 216.5,678.5 224.5,670.2 232.5,672.2 240.5,671.0 248.5,673.2 256.5,675.2 264.5,674.5 272.5,677.2 280.5,680.2 288.5,689.5 296.5,679.0 304.5,686.0 312.5,700.2 320.5,715.7 328.5,709.5 336.5,709.0 344.5,705.2 352.5,705.2 360.5,696.5 368.5,707.2 376.5,706.0 384.5,711.0 392.5,706.0 400.5,707.2 408.5,696.0 416.5,672.2 424.5,677.0 432.5,679.5 440.5,680.7 448.5,673.2 456.5,673.2 464.5,681.5 472.5,673.2 480.5,674.7 488.5,679.0 496.5,679.5 504.5,692.2 512.5,691.0 520.5,687.7 528.5,686.0 536.5,687.2 544.5,684.0 552.5,673.5 560.5,680.2 568.5,675.2 576.5,679.5 584.5,674.7 592.5,671.0 600.5,662.2 608.5,677.7 616.5,676.5 624.5,672.2 632.5,669.5 640.5,669.5 648.5,674.5 656.5,677.7 664.5,681.5 672.5,681.5 680.5,682.7 688.5,674.0 696.5,665.2 704.5,679.5 712.5,671.0 720.5,672.2 728.5,675.2 736.5,671.0 744.5,672.2 752.5,671.0 760.5,682.2 768.5,678.2 776.5,672.0 784.5,674.0 792.5,679.0 800.5,663.5 808.5,670.0 816.5,671.5 824.5,672.2 832.5,667.7 840.5,667.7 848.5,672.7 856.5,677.0 864.5,684.0 872.5,685.7 880.5,682.7 888.5,682.7 896.5,690.2 904.5,687.2 912.5,684.5 920.5,684.0 928.5,676.5 936.5,680.2 944.5,667.7 952.5,669.5 960.5,668.5 968.5,670.2 976.5,670.2 984.5,654.0 992.5,649.5 1000.5,662.0 1008.5,658.5 1016.5,663.5 1024.5,660.2 1032.5,668.2 1040.5,663.5 1048.5,687.7 1056.5,700.2 1064.5,696.5 1072.5,709.5 1080.5,701.5 1088.5,700.2 1096.5,699.0 1104.5,687.7 1112.5,682.7 1120.5,682.2 1128.5,679.5 1136.5,677.2 1144.5,674.5 1152.5,663.5 1160.5,660.2 1168.5,662.2 1176.5,660.7 1184.5,660.2 1192.5,658.2 1200.5,655.2 1208.5,656.5 1216.5,653.2 1224.5,663.5 1232.5,662.2 1240.5,659.0 1248.5,674.0 1256.5,677.7 1264.5,672.0 1272.5,673.2 1280.5,674.5 1288.5,673.2 1296.5,671.0 1304.5,657.2 1312.5,656.0 1320.5,657.2 1328.5,671.0 1336.5,678.2 1344.5,667.2 1352.5,677.2 1360.5,677.7" fill="none" stroke="#1E90FF" stroke-width="1" shape-rendering="crispEdges"/>
<g fill="#000">
<rect x="0" y="28" width="1587" height="1"/>
<rect x="1586" y="28" width="1" height="726"/>
<rect x="0" y="448" width="1587" height="1"/>
<rect x="0" y="450" width="1587" height="1"/>
<rect x="0" y="601" width="1587" height="1"/>
<rect x="0" y="603" width="1587" height="1"/>
<rect x="0" y="753" width="1587" height="1"/>
</g>
<rect x="0" y="449" width="1632" height="1" fill="#fff"/>
<rect x="0" y="602" width="1632" height="1" fill="#fff"/>
<g fill="#000">
<rect x="1587" y="50" width="2" height="1"/>
<rect x="1587" y="181" width="2" height="1"/>
<rect x="1587" y="215" width="2" height="1"/>
<rect x="1587" y="247" width="2" height="1"/>
<rect x="1587" y="280" width="2" height="1"/>
<rect x="1587" y="313" width="2" height="1"/>
<rect x="1587" y="346" width="2" height="1"/>
<rect x="1587" y="379" width="2" height="1"/>
<rect x="1587" y="412" width="2" height="1"/>
<rect x="1587" y="445" width="2" height="1"/>
</g>
<text class="ax" x="1592" y="53.0" shape-rendering="auto">1.28385</text>
<text class="ax" x="1592" y="184.9" shape-rendering="auto">1.27100</text>
<text class="ax" x="1592" y="218.0" shape-rendering="auto">1.26775</text>
<text class="ax" x="1592" y="250.8" shape-rendering="auto">1.26455</text>
<text class="ax" x="1592" y="283.7" shape-rendering="auto">1.26135</text>
<text class="ax" x="1592" y="316.7" shape-rendering="auto">1.25810</text>
<text class="ax" x="1592" y="349.5" shape-rendering="auto">1.25490</text>
<text class="ax" x="1592" y="382.5" shape-rendering="auto">1.25165</text>
<text class="ax" x="1592" y="415.5" shape-rendering="auto">1.24845</text>
<text class="ax" x="1592" y="448.5" shape-rendering="auto">1.24520</text>
<rect x="1588" y="74" width="41" height="11" fill="#FF4500"/>
<text class="lb" x="1592" y="83" style="fill:#fff">1.28083</text>
<rect x="1588" y="109" width="41" height="11" fill="#FF4500"/>
<text class="lb" x="1592" y="118" style="fill:#fff">1.27743</text>
<rect x="1588" y="139" width="41" height="11" fill="#000000"/>
<text class="lb" x="1592" y="148" style="fill:#fff">1.27456</text>
<rect x="1588" y="164" width="41" height="11" fill="#32CD32"/>
<text class="lb" x="1592" y="173" style="fill:#fff">1.27206</text>
<rect x="1588" y="197" width="41" height="11" fill="#0000FF"/>
<text class="lb" x="1592" y="206" style="fill:#fff">1.26886</text>
<rect x="1588" y="225" width="41" height="11" fill="#0000FF"/>
<text class="lb" x="1592" y="234" style="fill:#fff">1.26615</text>
<g fill="#000">
<rect x="1587" y="451" width="2" height="1"/>
<rect x="1587" y="503" width="2" height="1"/>
</g>
<text class="ax" x="1590" y="461">0.003565</text>
<text class="ax" x="1590" y="507">0.00</text>
<text class="ax" x="1588.5" y="597.5">-0.006738</text>
<text class="ax" x="1589.3" y="613.3">100</text>
<text class="ax" x="1589.3" y="637.8">80</text>
<text class="ax" x="1589.3" y="681.8">50</text>
<text class="ax" x="1589.3" y="733.8">15</text>
<text class="ax" x="1589.3" y="749.8">0</text>
<path d="M3 39.5 L10 39.5 L6.5 35 Z" fill="#000" shape-rendering="auto"/>
<text class="ax" x="15" y="40" xml:space="preserve" textLength="204">GBPUSD-,H4  1.27444 1.27523 1.27403 1.27456</text>
<text class="ax" x="4" y="462.5" textLength="148">MACD(12,26,9) 0.001392 0.001869</text>
<text class="ax" x="4" y="615.5" textLength="67.5">RSI(14) 50.9306</text>
<g fill="#000">
<rect x="0" y="754" width="1" height="3"/>
<rect x="64" y="754" width="1" height="3"/>
<rect x="128" y="754" width="1" height="3"/>
<rect x="192" y="754" width="1" height="3"/>
<rect x="256" y="754" width="1" height="3"/>
<rect x="320" y="754" width="1" height="3"/>
<rect x="384" y="754" width="1" height="3"/>
<rect x="448" y="754" width="1" height="3"/>
<rect x="512" y="754" width="1" height="3"/>
<rect x="576" y="754" width="1" height="3"/>
<rect x="640" y="754" width="1" height="3"/>
<rect x="704" y="754" width="1" height="3"/>
<rect x="768" y="754" width="1" height="3"/>
<rect x="832" y="754" width="1" height="3"/>
<rect x="896" y="754" width="1" height="3"/>
<rect x="960" y="754" width="1" height="3"/>
<rect x="1024" y="754" width="1" height="3"/>
<rect x="1088" y="754" width="1" height="3"/>
<rect x="1152" y="754" width="1" height="3"/>
<rect x="1216" y="754" width="1" height="3"/>
<rect x="1280" y="754" width="1" height="3"/>
<rect x="1344" y="754" width="1" height="3"/>
</g>
<text class="ax" x="-1" y="765.7">29 Nov 2018</text>
<text class="ax" x="63" y="765.7">3 Dec 04:00</text>
<text class="ax" x="127" y="765.7">4 Dec 12:00</text>
<text class="ax" x="191" y="765.7">5 Dec 20:00</text>
<text class="ax" x="255" y="765.7">7 Dec 04:00</text>
<text class="ax" x="319" y="765.7">10 Dec 12:00</text>
<text class="ax" x="383" y="765.7">11 Dec 20:00</text>
<text class="ax" x="447" y="765.7">13 Dec 04:00</text>
<text class="ax" x="511" y="765.7">14 Dec 12:00</text>
<text class="ax" x="575" y="765.7">17 Dec 20:00</text>
<text class="ax" x="639" y="765.7">19 Dec 04:00</text>
<text class="ax" x="703" y="765.7">20 Dec 12:00</text>
<text class="ax" x="767" y="765.7">23 Dec 23:00</text>
<text class="ax" x="831" y="765.7">26 Dec 00:00</text>
<text class="ax" x="895" y="765.7">27 Dec 08:00</text>
<text class="ax" x="959" y="765.7">28 Dec 16:00</text>
<text class="ax" x="1023" y="765.7">1 Jan 23:00</text>
<text class="ax" x="1087" y="765.7">3 Jan 04:00</text>
<text class="ax" x="1151" y="765.7">4 Jan 12:00</text>
<text class="ax" x="1215" y="765.7">7 Jan 20:00</text>
<text class="ax" x="1279" y="765.7">9 Jan 04:00</text>
<text class="ax" x="1343" y="765.7">10 Jan 12:00</text>
<rect x="1632" y="26" width="1" height="748" fill="#F0F0F0"/>
</svg>
<div id="tb">
<span class="cj" style="left:-1px">单</span>
<!-- icon1: yellow tag -->
<svg style="left:23px;top:4px" width="18" height="17" viewBox="0 0 18 17"><path d="M1 9 L8 1 L16.5 7.5 L9.5 15.5 Z" fill="#E9B93A" stroke="#B07A10" stroke-width="1"/><path d="M2 10.5 L9.5 16.5 L16.5 9" fill="none" stroke="#C08A20" stroke-width="1.4"/><path d="M4 8.5 L8.5 3.5 L13 7" fill="none" stroke="#FBE38A" stroke-width="1.6"/></svg>
<!-- icon2: doc + cloud -->
<svg style="left:51px;top:3px" width="18" height="18" viewBox="0 0 18 18"><rect x="4.5" y="1.5" width="9" height="11" fill="#5AA6E8" stroke="#2B6CB8"/><rect x="8" y="4" width="4" height="1.6" fill="#E8F3FF"/><rect x="8" y="7" width="3" height="1.2" fill="#CFE4FA"/><path d="M3.5 16.5 C0.5 16.5 0.5 12.5 3.8 12.5 C4.5 9.8 8.5 9.8 9.5 12 C11 10.5 13.8 11.5 13.5 13.5 C16.8 13.3 16.8 16.5 14.5 16.5 Z" fill="#F4F8FF" stroke="#7C9CCB" stroke-width="1"/></svg>
<!-- icon3: radar -->
<svg style="left:79px;top:3px" width="18" height="18" viewBox="0 0 18 18"><circle cx="9" cy="9" r="7.3" fill="#EAF1FB" stroke="#9DB7DD" stroke-width="1.2"/><circle cx="9" cy="9" r="4.6" fill="none" stroke="#6F98D3" stroke-width="1.3"/><circle cx="9" cy="8.5" r="1.7" fill="#2E63C4"/><path d="M9 9 L9 16.3 A7.3 7.3 0 0 0 15.5 12.2" fill="none" stroke="#2FA836" stroke-width="1.6"/></svg>
<!-- icon4: hat + stop -->
<svg style="left:106px;top:3px" width="19" height="18" viewBox="0 0 19 18"><path d="M2 8 L9 16 L16 8 Z" fill="#F1CF55" stroke="#C79A1C" stroke-width="1"/><ellipse cx="8.5" cy="6.5" rx="7.6" ry="3.2" fill="#5F9FDC" stroke="#2F6FB5"/><path d="M4.3 6 C4.3 0.6 12.7 0.6 12.7 6 Z" fill="#7DB5EA" stroke="#2F6FB5"/><circle cx="14" cy="13" r="4" fill="#D21F1F"/><rect x="12.3" y="11.3" width="3.4" height="3.4" fill="#fff"/></svg>
<span class="cj" style="left:128px">自动交易</span>
<div class="sep" style="left:183px"></div><div class="grip" style="left:187px"></div>
<!-- bar chart -->
<svg style="left:197px;top:4px" width="18" height="18" viewBox="0 0 18 18" fill="none" stroke="#5c5c5c" stroke-width="1.05"><path d="M4.5 2.5 V16 M2 14 H15.5 M3 4.5 L4.5 2.5 L6 4.5 M13.5 12.5 L15.5 14 L13.5 15.5"/><path d="M10.5 4 V12 M10.5 5.5 H13 M8 10.5 H10.5" stroke="#1E8C28" stroke-width="1.2" shape-rendering="crispEdges"/></svg>
<div class="pr" style="left:222px;width:25px"></div>
<svg style="left:225px;top:4px" width="18" height="18" viewBox="0 0 18 18" fill="none" stroke="#5c5c5c" stroke-width="1.05"><path d="M4.5 2.5 V16 M2 14 H15.5 M3 4.5 L4.5 2.5 L6 4.5 M13.5 12.5 L15.5 14 L13.5 15.5"/><path d="M10.5 0.5 V12" stroke="#1E8C28"/><rect x="8.7" y="3" width="3.6" height="6.5" fill="#3FD04A" stroke="#1E8C28" stroke-width="1"/></svg>
<svg style="left:253px;top:4px" width="18" height="18" viewBox="0 0 18 18" fill="none" stroke="#5c5c5c" stroke-width="1.05"><path d="M4.5 2.5 V16 M2 14 H15.5 M3 4.5 L4.5 2.5 L6 4.5 M13.5 12.5 L15.5 14 L13.5 15.5"/><path d="M3.5 10.5 C7 6 9 3.5 11 5.5 C12.5 7 13.5 8.5 15.5 9.5" stroke="#1E8C28" stroke-width="1.3"/></svg>
<div class="sep" style="left:278px"></div>
<!-- zoom in -->
<svg style="left:286px;top:3px" width="18" height="18" viewBox="0 0 18 18"><path d="M10.5 10.5 L16 16" stroke="#B8921E" stroke-width="3" stroke-linecap="round"/><path d="M10.5 10.5 L16 16" stroke="#EBCB58" stroke-width="1.4" stroke-linecap="round"/><circle cx="6.8" cy="6.8" r="5.3" fill="#E3EFFB" stroke="#4A8AD4" stroke-width="1.4"/><path d="M4 6.8 H9.6 M6.8 4 V9.6" stroke="#3F7FCB" stroke-width="1.7"/></svg>
<svg style="left:314px;top:3px" width="18" height="18" viewBox="0 0 18 18"><path d="M10.5 10.5 L16 16" stroke="#B8921E" stroke-width="3" stroke-linecap="round"/><path d="M10.5 10.5 L16 16" stroke="#EBCB58" stroke-width="1.4" stroke-linecap="round"/><circle cx="6.8" cy="6.8" r="5.3" fill="#E3EFFB" stroke="#4A8AD4" stroke-width="1.4"/><path d="M4 6.8 H9.6" stroke="#3F7FCB" stroke-width="1.7"/></svg>
<!-- tiles -->
<svg style="left:343px;top:4px" width="17" height="17" viewBox="0 0 17 17"><rect x="0.5" y="0.5" width="7.5" height="7.5" fill="#3C9A25"/><rect x="8.5" y="0.5" width="7.5" height="7.5" fill="#1F50C8"/><rect x="0.5" y="8.5" width="7.5" height="7.5" fill="#1F50C8"/><rect x="8.5" y="8.5" width="7.5" height="7.5" fill="#3C9A25"/><g fill="#E8F0FF"><rect x="1.5" y="3.2" width="5.5" height="1.4"/><rect x="1.5" y="5.6" width="5.5" height="1.4"/><rect x="9.5" y="3.2" width="5.5" height="1.4"/><rect x="9.5" y="5.6" width="5.5" height="1.4"/><rect x="1.5" y="11.2" width="5.5" height="1.4"/><rect x="1.5" y="13.6" width="5.5" height="1.4"/><rect x="9.5" y="11.2" width="5.5" height="1.4"/><rect x="9.5" y="13.6" width="5.5" height="1.4"/></g></svg>
<div class="sep" style="left:368px"></div>
<div class="pr" style="left:373px;width:25px"></div>
<svg style="left:377px;top:4px" width="18" height="18" viewBox="0 0 18 18" fill="none" stroke="#5c5c5c" stroke-width="1.05"><path d="M4.5 2.5 V16 M2 14 H15.5 M3 4.5 L4.5 2.5 L6 4.5 M13.5 12.5 L15.5 14 L13.5 15.5"/><path d="M9.5 4.5 L13 7.7 L9.5 11 Z" stroke="#1E9A2A" stroke-width="1.3" fill="#BFF0C4"/></svg>
<div class="pr" style="left:401px;width:25px"></div>
<svg style="left:405px;top:4px" width="18" height="18" viewBox="0 0 18 18" fill="none" stroke="#5c5c5c" stroke-width="1.05"><path d="M4.5 2.5 V16 M2 14 H15.5 M3 4.5 L4.5 2.5 L6 4.5 M13.5 12.5 L15.5 14 L13.5 15.5"/><path d="M10.5 2 V12" stroke="#1F5FA8" stroke-width="1.3"/><path d="M15.5 7.5 H11.5 M13.5 5.5 L11.5 7.5 L13.5 9.5" stroke="#D8501A" stroke-width="1.3"/></svg>
<div class="sep" style="left:430px"></div>
<!-- new chart -->
<svg style="left:439px;top:3px" width="19" height="19" viewBox="0 0 19 19"><path d="M1.5 1.5 H8.5 L11.5 4.5 V12.5 H1.5 Z" fill="#F6F6F6" stroke="#8A8A8A"/><path d="M4.5 5 V10 M4 8 H6.5" stroke="#7A7A7A" fill="none"/><path d="M11 8 V18 M6 13 H16" stroke="#178A1E" stroke-width="4.2"/><path d="M11 8.8 V17.2 M6.8 13 H15.2" stroke="#35D43F" stroke-width="2.4"/></svg>
<div class="dd" style="top:11px;left:462px"></div>
<!-- clock -->
<svg style="left:477px;top:3px" width="18" height="18" viewBox="0 0 18 18"><circle cx="9" cy="9" r="7.6" fill="#3577D6" stroke="#1F56AE" stroke-width="0.8"/><circle cx="9" cy="9" r="5.7" fill="#EEF4FF"/><circle cx="9" cy="9" r="5.7" fill="none" stroke="#BFD4F2" stroke-width="0.8"/><path d="M9 5.3 V9.3 H11.8" stroke="#505050" stroke-width="1" fill="none"/></svg>
<div class="dd" style="top:11px;left:501px"></div>
<!-- template -->
<svg style="left:516px;top:4px" width="18" height="16" viewBox="0 0 18 16"><rect x="0.5" y="0.5" width="17" height="14.5" fill="#F6FAFF" stroke="#4384D2" stroke-width="1"/><rect x="1" y="1" width="16" height="2.2" fill="#4384D2"/><path d="M1.5 8.5 H16.5" stroke="#9BB7DD" stroke-width="1"/><path d="M3 7 L6 5.8 L9 6.3 L12 4.8 L15 5" stroke="#B03A1A" stroke-width="1.2" fill="none"/><path d="M3 12.5 L6 11.3 L8.5 12.3 L11.5 10.5 L14.5 12" stroke="#2C9A2C" stroke-width="1.2" fill="none"/></svg>
<div class="dd" style="top:11px;left:540px"></div>
<div class="sep" style="left:551px"></div><div class="grip" style="left:555px"></div>
<div class="pr" style="left:561px;width:25px"></div>
<!-- cursor -->
<svg style="left:567px;top:4px" width="12" height="16" viewBox="0 0 12 16"><path d="M2 1 V13 L4.8 10.3 L7 15 L9 14 L6.8 9.6 H10.5 Z" fill="#4A4A4A"/></svg>
<!-- crosshair -->
<svg style="left:593px;top:4px" width="17" height="17" viewBox="0 0 17 17" stroke="#505050" stroke-width="1.2"><path d="M8.5 1 V6.8 M8.5 10.2 V16 M1 8.5 H6.8 M10.2 8.5 H16"/></svg>
<div class="sep" style="left:618px"></div>
<svg style="left:630px;top:4px" width="12" height="17" viewBox="0 0 12 17" stroke="#505050" stroke-width="1.2"><path d="M5.5 2 V15"/></svg>
<svg style="left:656px;top:4px" width="16" height="17" viewBox="0 0 16 17" stroke="#505050" stroke-width="1.2"><path d="M2 8.5 H14"/></svg>
<svg style="left:684px;top:4px" width="16" height="17" viewBox="0 0 16 17" stroke="#505050" stroke-width="1.2"><path d="M2 15 L14 3"/></svg>
<!-- channel E -->
<svg style="left:711px;top:3px" width="18" height="19" viewBox="0 0 18 19" stroke="#505050" stroke-width="1.1" fill="none"><path d="M1 12 L13.5 3.5 M3 15.5 L15 7" /><path d="M5.5 7 L5 15.5 M9 4.5 L8.5 13 M12.5 1.5 L12 10.5" stroke-width="1"/><text x="12" y="18.5" style="font:700 6.5px 'Liberation Sans',sans-serif;fill:#333;stroke:none">E</text></svg>
<!-- fib F -->
<svg style="left:740px;top:4px" width="18" height="18" viewBox="0 0 18 18" stroke="#505050" stroke-width="1" fill="none"><path d="M1 1.5 H14 M1 5 H14 M1 8.5 H14 M1 12 H10" stroke-dasharray="1 1"/><text x="10.5" y="16.8" style="font:700 6.5px 'Liberation Sans',sans-serif;fill:#333;stroke:none">F</text></svg>
<span class="t" style="left:771.5px;top:4px;font-size:12.5px;font-weight:700;line-height:18px;color:#5a5a5a">A</span>
<svg style="left:796px;top:4px" width="16" height="16" viewBox="0 0 16 16"><rect x="1.5" y="1.5" width="12" height="13" fill="none" stroke="#606060" stroke-dasharray="1 1" shape-rendering="crispEdges"/><text x="3.4" y="12.6" style="font:700 11px 'Liberation Sans',sans-serif;fill:#505050">T</text></svg>
<svg style="left:824px;top:4px" width="17" height="17" viewBox="0 0 17 17" fill="#404040"><path d="M4.5 2 L7.3 4.8 L4.5 7.6 L1.7 4.8 Z"/><path d="M11.5 9.6 L14.3 12.4 L11.5 15.2 L8.7 12.4 Z"/><path d="M3 9 L5.5 12 L11.5 5.5" fill="none" stroke="#404040" stroke-width="1.3"/></svg>
<div class="dd" style="top:11px;left:846px"></div>
<div class="sep" style="left:857px"></div><div class="grip" style="left:861px"></div>
<span class="t" style="left:872.5px">M1</span>
<span class="t" style="left:900.5px">M5</span>
<span class="t" style="left:926.5px">M15</span>
<span class="t" style="left:954px">M30</span>
<span class="t" style="left:985.5px">H1</span>
<div class="pr" style="left:1007px;width:25px"></div>
<span class="t" style="left:1012.5px">H4</span>
<span class="t" style="left:1041.5px">D1</span>
<span class="t" style="left:1069px">W1</span>
<span class="t" style="left:1096px">MN</span>
<div class="sep" style="left:1118px"></div>
<!-- search -->
<svg style="left:1578px;top:4px" width="17" height="15" viewBox="0 0 17 15"><circle cx="10.5" cy="5" r="3.8" fill="#F4F8FF" stroke="#2F62C8" stroke-width="1.6"/><path d="M7.6 8 L2.2 13" stroke="#2F62C8" stroke-width="2.4" stroke-linecap="round"/></svg>
<!-- chat -->
<svg style="left:1606px;top:3px" width="24" height="17" viewBox="0 0 24 17"><path d="M9 6 C9 0.5 22 0.5 22 6 C22 9 19.5 10.3 18.5 10.5 L19.5 13 L15.8 10.8 C12 10.8 9 9.3 9 6 Z" fill="#E4E4EA" stroke="#8E8E96" stroke-width="0.9"/><path d="M1 9.5 C1 5 12 5 12 9.5 C12 12.5 9 13.5 7 13.5 L3.5 16 L4.3 13 C2 12.5 1 11.2 1 9.5 Z" fill="#F2F2F6" stroke="#8E8E96" stroke-width="0.9"/></svg>

</div>
<div id="tbl1"></div><div id="tbl2"></div>
<div id="tpw"></div>
<div id="tp">
  <div class="sell"><b>SELL</b><i></i><u></u></div>
  <div class="spin"><div class="l"></div><span class="v">0.10</span><div class="r"></div></div>
  <div class="buy"><b>BUY</b><i></i><u></u></div>
  <div class="pb s"><span class="sm" style="left:20.5px">1.27</span><span class="bg" style="left:47px">45</span><span class="sp" style="left:87px">6</span></div>
  <div class="pb b"><span class="sm" style="left:19.5px">1.27</span><span class="bg" style="left:48px">54</span><span class="sp" style="left:88px">5</span></div>
</div>
</body>
</html>
